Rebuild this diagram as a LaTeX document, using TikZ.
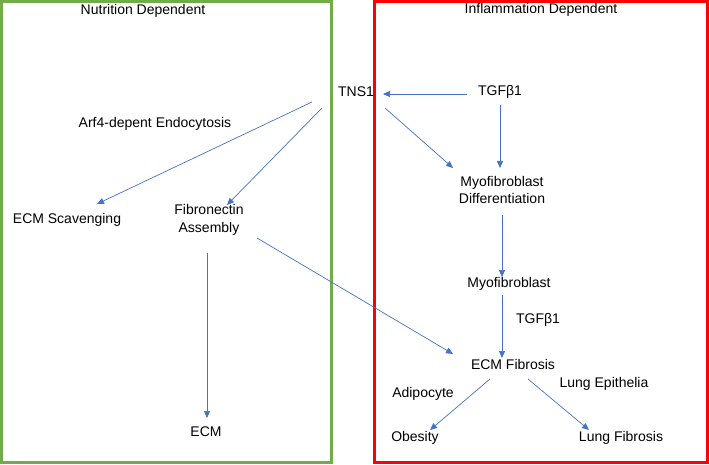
\documentclass[tikz,border=0pt]{standalone}
\usepackage{fontspec}
\setmainfont{Liberation Sans}
\usetikzlibrary{arrows.meta,calc}
\definecolor{nutgreen}{HTML}{70AD47}
\definecolor{arrowblue}{HTML}{4472C4}
\tikzset{
  lbl/.style={font=\fontsize{14}{17.5}\selectfont,align=center,inner sep=1pt},
  link/.style={draw=arrowblue,line width=0.7pt,-{Triangle[length=7pt,width=6pt]}},
}
\begin{document}
\begin{tikzpicture}[x=1pt,y=-1pt]
\useasboundingbox (0,0) rectangle (709,465);
\draw[nutgreen,line width=3pt] (1.5,1.5) rectangle (331.5,462.5);
\draw[red,line width=3pt] (374.5,1.5) rectangle (707.5,462.5);
\node[lbl] (nut) at (143,11) {Nutrition Dependent};
\node[lbl] (inf) at (541,10) {Inflammation Dependent};
\node[lbl] (tns) at (356,92) {TNS1};
\node[lbl] (tgf) at (500,92) {TGFβ1};
\node[lbl] (arf) at (155,124) {Arf4-depent Endocytosis};
\node[lbl] (scav) at (67,220) {ECM Scavenging};
\node[lbl] (fib) at (209,220) {Fibronectin\\Assembly};
\node[lbl] (mdiff) at (502,190) {Myofibroblast\\Differentiation};
\node[lbl] (myo) at (509,284) {Myofibroblast};
\node[lbl] (tgfb) at (538,320) {TGFβ1};
\node[lbl] (fibro) at (513,364) {ECM Fibrosis};
\node[lbl] (lepi) at (604,384) {Lung Epithelia};
\node[lbl] (adipo) at (423,394) {Adipocyte};
\node[lbl] (obes) at (415,438) {Obesity};
\node[lbl] (lfib) at (621,438) {Lung Fibrosis};
\node[lbl] (ecm) at (206,432) {ECM};
% arrows
\draw[link] ($(tns)+(-44,10)$) -- ($(scav)+(30,-16)$);
\draw[link] ($(tns)+(-34,16)$) -- ($(fib)+(18,-15)$);
\draw[link] ($(tgf)+(-33,2)$) -- ($(tns)+(27,2)$);
\draw[link] ($(tns)+(29,16)$) -- ($(mdiff)+(-49,-22)$);
\draw[link] ($(tgf)+(0,13)$) -- ($(mdiff)+(-2,-22)$);
\draw[link] ($(mdiff)+(0,25)$) -- ($(myo)+(-7,-7)$);
\draw[link] ($(myo)+(-7,11)$) -- ($(fibro)+(-11,-6)$);
\draw[link] ($(fib)+(48,18)$) -- ($(fibro)+(-60,-10)$);
\draw[link] ($(fibro)+(-23,15)$) -- ($(obes)+(15,-8)$);
\draw[link] ($(fibro)+(15,15)$) -- ($(lfib)+(-32,-8)$);
\draw[link] ($(fib)+(-2,33)$) -- ($(ecm)+(1,-14)$);
\end{tikzpicture}
\end{document}
